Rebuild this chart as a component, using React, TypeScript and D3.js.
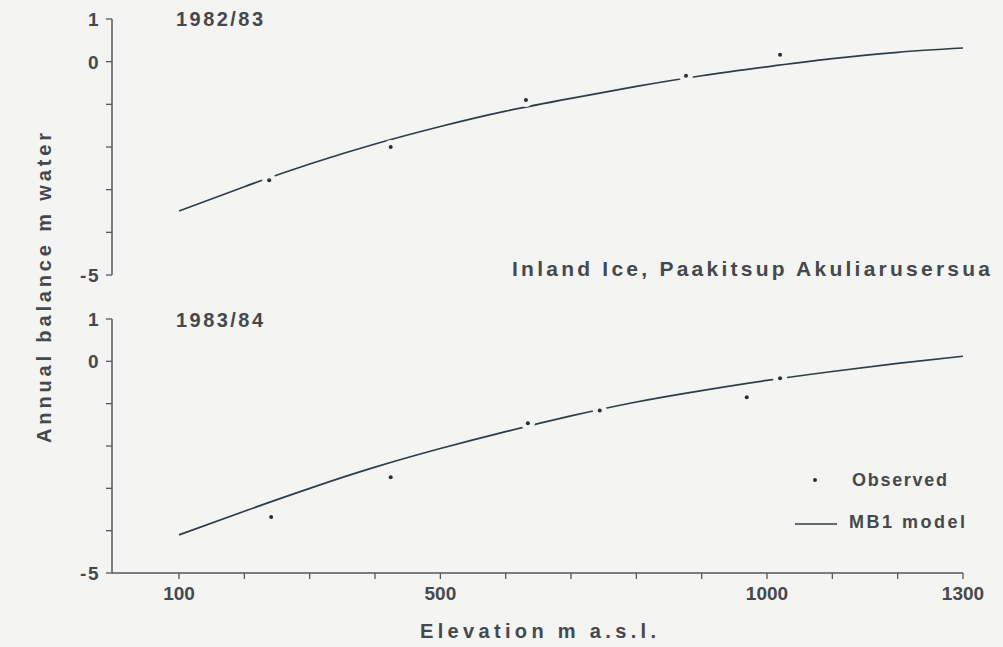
import React from "react";
import * as d3 from "d3";

const elevations = [100, 200, 300, 400, 500, 600, 700, 800, 900, 1000, 1100, 1200, 1300];
const model8283 = [-3.5, -2.93, -2.4, -1.93, -1.52, -1.16, -0.86, -0.58, -0.33, -0.12, 0.07, 0.22, 0.32];
const model8384 = [-4.1, -3.54, -3.0, -2.5, -2.06, -1.66, -1.29, -0.96, -0.69, -0.45, -0.24, -0.05, 0.12];

const obsElev8283 = [238, 424, 631, 876, 1020];
const obs8283 = [-2.78, -2.0, -0.9, -0.33, 0.165];
const obsElev8384 = [241, 424, 634, 744, 969, 1020];
const obs8384 = [-3.68, -2.74, -1.46, -1.16, -0.85, -0.4];

const yTicks = [1, 0, -1, -2, -3, -4, -5];
const yTickLabels = [1, 0, -5];
const xTicks = [100, 200, 300, 400, 500, 600, 700, 800, 900, 1000, 1100, 1200, 1300];
const xTickLabels = [100, 500, 1000, 1300];

const BG = "#f4f4f3";
const TEXT = "#45484c";
const AXIS = "#55585c";
const LINE = "#2e3d48";
const FONT = "'Liberation Sans', Arial, Helvetica, sans-serif";

export default function App() {
  const x = d3.scaleLinear().domain([0, 1300]).range([113.7, 963]);
  const yTop = d3.scaleLinear().domain([-5, 1]).range([275, 19]);
  const yBot = d3.scaleLinear().domain([-5, 1]).range([573, 319]);
  const axisX = 112;

  const mkLine = (ys: d3.ScaleLinear<number, number>) =>
    d3
      .line<[number, number]>()
      .x((d) => x(d[0]))
      .y((d) => ys(d[1]))
      .curve(d3.curveNatural);

  const topPath = mkLine(yTop)(elevations.map((e, i) => [e, model8283[i]] as [number, number]));
  const botPath = mkLine(yBot)(elevations.map((e, i) => [e, model8384[i]] as [number, number]));

  const textStyle = { fontFamily: FONT, fontWeight: 700, fill: TEXT } as const;

  const yAxis = (ys: d3.ScaleLinear<number, number>, key: string) => (
    <g key={key}>
      <line x1={axisX} x2={axisX} y1={ys(1)} y2={ys(-5)} stroke={AXIS} strokeWidth={1.5} />
      {yTicks.map((t) => (
        <line key={t} x1={axisX - 6} x2={axisX} y1={ys(t)} y2={ys(t)} stroke={AXIS} strokeWidth={1.3} />
      ))}
      {yTickLabels.map((t) => (
        <text
          key={"l" + t}
          x={100}
          y={ys(t)}
          dy="0.36em"
          textAnchor="end"
          fontSize={19}
          letterSpacing={1.5}
          style={textStyle}
        >
          {t < 0 ? "-" + Math.abs(t) : String(t)}
        </text>
      ))}
    </g>
  );

  const points = (xs: number[], vs: number[], ys: d3.ScaleLinear<number, number>, key: string) => (
    <g key={key}>
      {xs.map((e, i) => (
        <circle key={"h" + i} cx={x(e)} cy={ys(vs[i])} r={7} fill={BG} />
      ))}
      {xs.map((e, i) => (
        <circle key={"p" + i} cx={x(e)} cy={ys(vs[i])} r={2} fill="#2a2e33" />
      ))}
    </g>
  );

  return (
    <svg
      width={1003}
      height={647}
      style={{ position: "fixed", left: 0, top: 0, background: BG }}
    >
      <rect x={0} y={0} width={1003} height={647} fill={BG} />
      {/* Y axis label */}
      <text
        transform={`translate(51, 288) rotate(-90)`}
        textAnchor="middle"
        fontSize={20}
        style={textStyle}
        textLength={310}
        lengthAdjust="spacing"
      >
        Annual balance m water
      </text>

      {/* top panel */}
      {yAxis(yTop, "yt")}
      <text x={176} y={19} dy="0.36em" fontSize={20} style={textStyle} textLength={87} lengthAdjust="spacing">
        1982/83
      </text>
      <path d={topPath ?? ""} fill="none" stroke={LINE} strokeWidth={1.7} />
      {points(obsElev8283, obs8283, yTop, "pt")}

      <text x={512} y={268} dy="0.36em" fontSize={21} style={textStyle} textLength={478} lengthAdjust="spacing">
        Inland Ice, Paakitsup Akuliarusersua
      </text>

      {/* bottom panel */}
      {yAxis(yBot, "yb")}
      <text x={176} y={320} dy="0.36em" fontSize={20} style={textStyle} textLength={87} lengthAdjust="spacing">
        1983/84
      </text>
      <path d={botPath ?? ""} fill="none" stroke={LINE} strokeWidth={1.7} />
      {points(obsElev8384, obs8384, yBot, "pb")}

      {/* x axis */}
      <line x1={axisX} x2={x(1300)} y1={yBot(-5)} y2={yBot(-5)} stroke={AXIS} strokeWidth={1.5} />
      {xTicks.map((t) => (
        <line key={t} x1={x(t)} x2={x(t)} y1={yBot(-5)} y2={yBot(-5) + 6} stroke={AXIS} strokeWidth={1.3} />
      ))}
      {xTickLabels.map((t) => (
        <text key={"xl" + t} x={x(t)} y={593} dy="0.36em" textAnchor="middle" fontSize={19} style={textStyle}>
          {String(t)}
        </text>
      ))}
      <text x={420} y={631} dy="0.36em" fontSize={20} style={textStyle} textLength={236} lengthAdjust="spacing">
        Elevation m a.s.l.
      </text>

      {/* legend */}
      <circle cx={815} cy={480} r={2} fill="#2a2e33" />
      <text x={852} y={480} dy="0.36em" fontSize={18} style={textStyle} textLength={95} lengthAdjust="spacing">
        Observed
      </text>
      <line x1={795} x2={837} y1={524} y2={524} stroke={LINE} strokeWidth={1.7} />
      <text x={849} y={522} dy="0.36em" fontSize={18} style={textStyle} textLength={116} lengthAdjust="spacing">
        MB1 model
      </text>
    </svg>
  );
}
